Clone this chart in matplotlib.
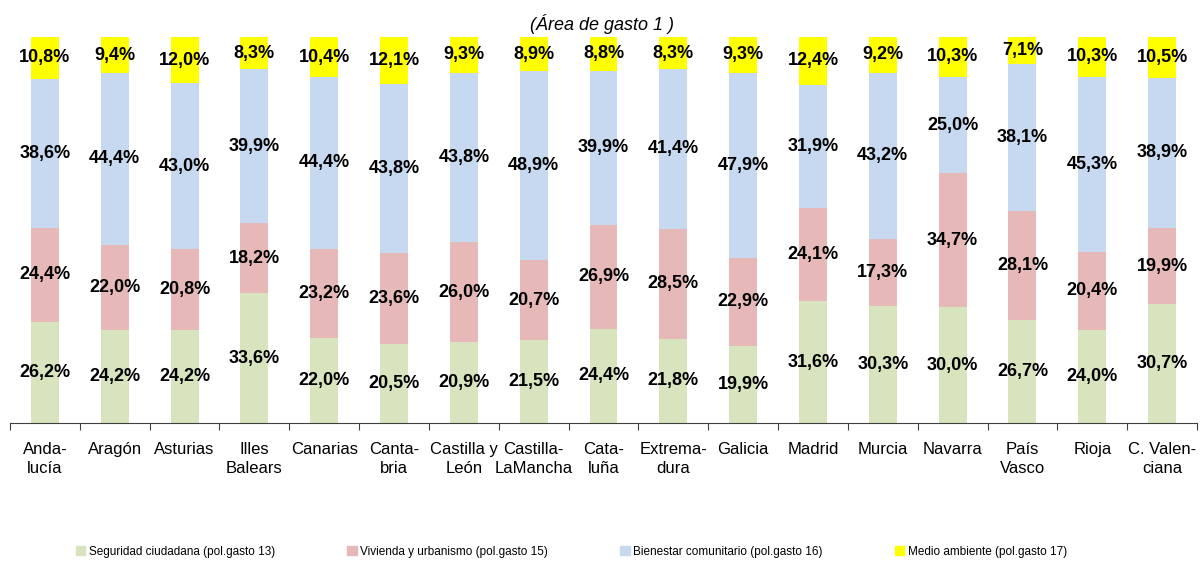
import numpy as np
import matplotlib
matplotlib.use("Agg")
import matplotlib.pyplot as plt
from matplotlib.patches import Patch

plt.rcParams["font.family"] = ["Liberation Sans Narrow", "Liberation Sans", "DejaVu Sans"]

# Datos (porcentajes por comunidad autónoma)
regiones = ["Anda-\nlucía", "Aragón", "Asturias", "Illes\nBalears", "Canarias",
            "Canta-\nbria", "Castilla y\nLeón", "Castilla-\nLaMancha", "Cata-\nluña",
            "Extrema-\ndura", "Galicia", "Madrid", "Murcia", "Navarra", "País\nVasco",
            "Rioja", "C. Valen-\nciana"]
seguridad = [26.2, 24.2, 24.2, 33.6, 22.0, 20.5, 20.9, 21.5, 24.4, 21.8, 19.9, 31.6, 30.3, 30.0, 26.7, 24.0, 30.7]
vivienda = [24.4, 22.0, 20.8, 18.2, 23.2, 23.6, 26.0, 20.7, 26.9, 28.5, 22.9, 24.1, 17.3, 34.7, 28.1, 20.4, 19.9]
bienestar = [38.6, 44.4, 43.0, 39.9, 44.4, 43.8, 43.8, 48.9, 39.9, 41.4, 47.9, 31.9, 43.2, 25.0, 38.1, 45.3, 38.9]
medio = [10.8, 9.4, 12.0, 8.3, 10.4, 12.1, 9.3, 8.9, 8.8, 8.3, 9.3, 12.4, 9.2, 10.3, 7.1, 10.3, 10.5]

series = [
    ("Seguridad ciudadana (pol.gasto 13)", seguridad, "#D7E4BD"),
    ("Vivienda y urbanismo (pol.gasto 15)", vivienda, "#E6B9B8"),
    ("Bienestar comunitario (pol.gasto 16)", bienestar, "#C6D9F1"),
    ("Medio ambiente (pol.gasto 17)", medio, "#FFFF00"),
]

fig = plt.figure(figsize=(12.03, 5.62), dpi=100)
ax = fig.add_axes([10 / 1203, 139 / 562, 1187 / 1203, 386 / 562])

x = np.arange(len(regiones))
bottom = np.zeros(len(regiones))
for nombre, vals, color in series:
    vals = np.array(vals)
    ax.bar(x, vals, width=0.4, bottom=bottom, color=color, label=nombre)
    for xi, b, v in zip(x, bottom, vals):
        ax.text(xi, b + v / 2, f"{v:.1f}%".replace(".", ","), ha="center", va="center",
                fontsize=13, fontweight="bold", color="black")
    bottom += vals

ax.set_xlim(-0.5, len(regiones) - 0.5)
ax.set_ylim(0, 100)
for s in ["left", "right", "top"]:
    ax.spines[s].set_visible(False)
ax.spines["bottom"].set_color("#404040")
ax.set_yticks([])

# ticks entre categorías, etiquetas centradas
ax.set_xticks(np.arange(-0.5, len(regiones)), minor=False)
ax.set_xticklabels([])
ax.tick_params(axis="x", which="major", direction="out", length=5, color="#404040")
ax.set_xticks(x, minor=True)
ax.set_xticklabels(regiones, minor=True, fontsize=12, linespacing=1.3)
ax.tick_params(axis="x", which="minor", length=0, pad=14)

fig.text(0.5, 0.957, "(Área de gasto 1 )", ha="center", va="center", fontsize=13, style="italic")

handles = [Patch(color=c, label=n) for n, _, c in series]
fig.legend(handles=handles, loc="center", bbox_to_anchor=(0.475, 0.018), ncol=4, frameon=False,
           fontsize=8.5, handlelength=0.8, handleheight=0.8, handletextpad=0.3, columnspacing=6.1)

fig.savefig("out.png", dpi=100)
